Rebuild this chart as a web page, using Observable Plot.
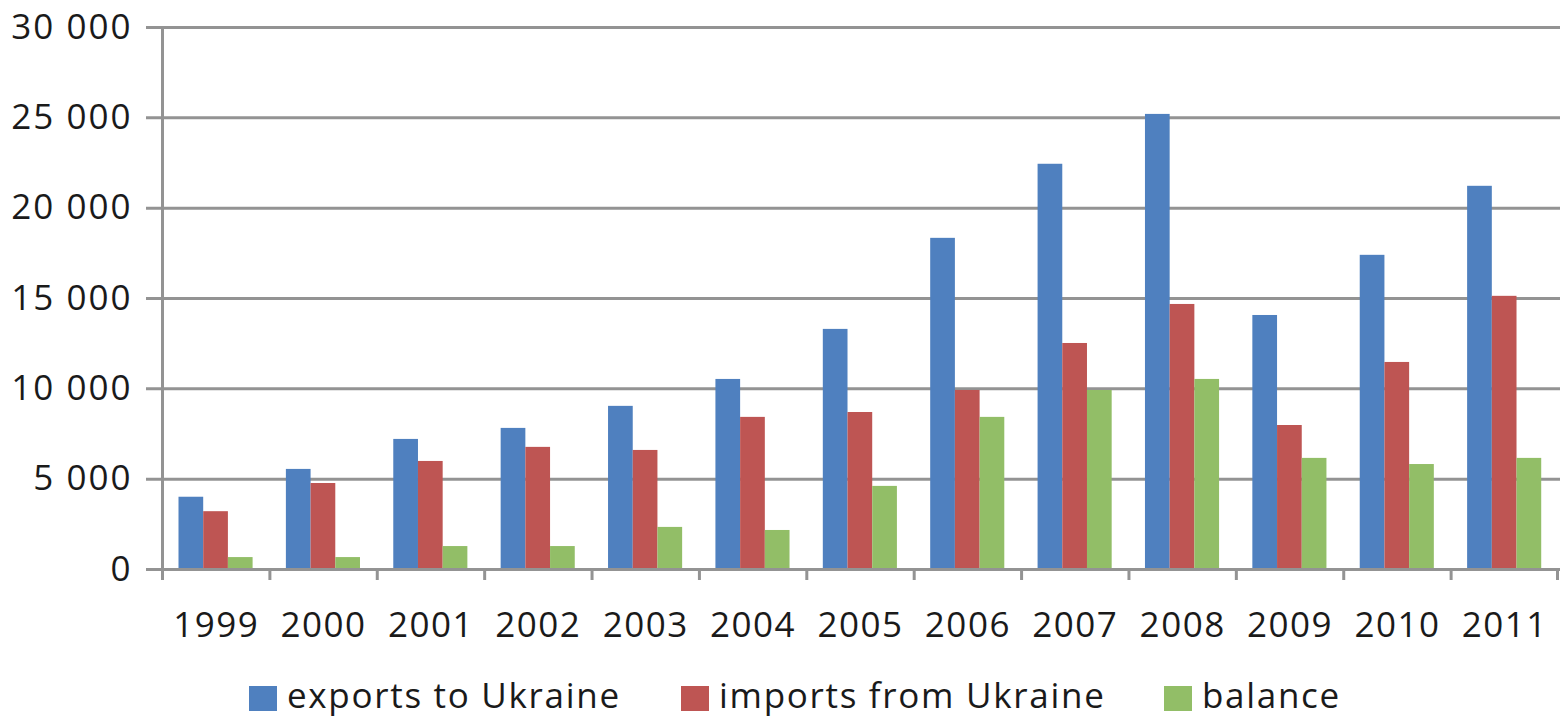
<!DOCTYPE html>
<html>
<head>
<meta charset="utf-8">
<script src="https://cdn.jsdelivr.net/npm/d3@7"></script>
<script src="https://cdn.jsdelivr.net/npm/@observablehq/plot@0.6"></script>
<style>
  html, body { margin: 0; padding: 0; background: #fff; }
  #wrap { position: relative; width: 1560px; height: 718px; overflow: hidden; font-family: "Open Sans", sans-serif; color: #1a1a1a; }
  #chart { position: absolute; left: 0; top: 0; }
  .leg { position: absolute; top: 672px; display: flex; align-items: center; font-size: 35px; letter-spacing: 1.7px; white-space: nowrap; line-height: 46px; }
  .sw { width: 28px; height: 25px; margin-right: 10px; margin-top: 7px; }
</style>
</head>
<body>
<div id="wrap">
  <div id="chart"></div>
  <div id="legend"></div>
</div>
<script>
// ---- data ----
const years = ["1999","2000","2001","2002","2003","2004","2005","2006","2007","2008","2009","2010","2011"];
const exportsToUkraine = [4000, 5540, 7200, 7810, 9030, 10520, 13290, 18330, 22430, 25190, 14060, 17390, 21210];
const importsFromUkraine = [3200, 4760, 5980, 6760, 6590, 8420, 8690, 9910, 12510, 14670, 7970, 11460, 15120];
const balance = [660, 660, 1270, 1270, 2330, 2160, 4600, 8420, 9910, 10520, 6150, 5810, 6150];
const seriesNames = ["exports to Ukraine", "imports from Ukraine", "balance"];
const seriesColors = ["#4F80BF", "#BE5553", "#92BE67"];
const yTicks = [0, 5000, 10000, 15000, 20000, 25000, 30000];

const seriesValues = [exportsToUkraine, importsFromUkraine, balance];
const rows = [];
seriesNames.forEach((s, si) => years.forEach((y, i) => rows.push({year: y, series: s, si, value: seriesValues[si][i]})));

// ---- layout ----
const W = 1560, H = 660, mL = 162, mR = 2, mT = 27, mB = 91;
const step = (W - mL - mR) / years.length;
const groupLeft = 16.5, barW = 24.7;
const grey = "#939393";

const barMarks = seriesNames.map((s, si) =>
  Plot.barY(rows.filter(d => d.si === si), {
    x: "year", y: "value", fill: seriesColors[si],
    insetLeft: groupLeft + si * barW,
    insetRight: step - groupLeft - (si + 1) * barW
  })
);

const fmt = v => d3.format(",")(v).replace(/,/g, " ");

const chart = Plot.plot({
  width: W, height: H,
  marginLeft: mL, marginRight: mR, marginTop: mT, marginBottom: mB,
  style: {fontFamily: "Open Sans, sans-serif", color: "#1a1a1a", background: "#fff"},
  x: {type: "band", domain: years, padding: 0, round: false},
  y: {domain: [0, 30000]},
  marks: [
    Plot.ruleY(yTicks, {stroke: grey, strokeWidth: 3, insetLeft: -16, insetRight: -2}),
    Plot.frame({anchor: "left", stroke: grey, strokeWidth: 3}),
    ...barMarks,
    Plot.ruleY([0], {stroke: grey, strokeWidth: 3, insetLeft: -16, insetRight: -2}),
    Plot.ruleX(years, {x: d => d, dx: -step / 2, stroke: grey, strokeWidth: 3, insetTop: H - mT - mB, insetBottom: -11}),
    Plot.ruleX(years.slice(-1), {x: d => d, dx: step / 2 - 1, stroke: grey, strokeWidth: 3, insetTop: H - mT - mB, insetBottom: -11}),
    Plot.axisY({ticks: yTicks, tickFormat: fmt, tickSize: 0, tickPadding: 30, fontSize: 35, label: null, fill: "#1a1a1a"}),
    Plot.axisX({tickSize: 0, tickPadding: 43, fontSize: 35, label: null, fill: "#1a1a1a"})
  ]
});
d3.select(chart).selectAll('[aria-label="y-axis tick label"] text').attr("letter-spacing", 2);
d3.select(chart).selectAll('[aria-label="x-axis tick label"] text').attr("letter-spacing", 1.5);
document.getElementById("chart").appendChild(chart);

// ---- legend ----
const legendLeft = [249, 681, 1164];
const legend = document.getElementById("legend");
seriesNames.forEach((s, i) => {
  const item = document.createElement("div");
  item.className = "leg";
  item.style.left = legendLeft[i] + "px";
  const sw = document.createElement("div");
  sw.className = "sw";
  sw.style.background = seriesColors[i];
  const t = document.createElement("span");
  t.textContent = s;
  item.appendChild(sw);
  item.appendChild(t);
  legend.appendChild(item);
});
</script>
</body>
</html>
